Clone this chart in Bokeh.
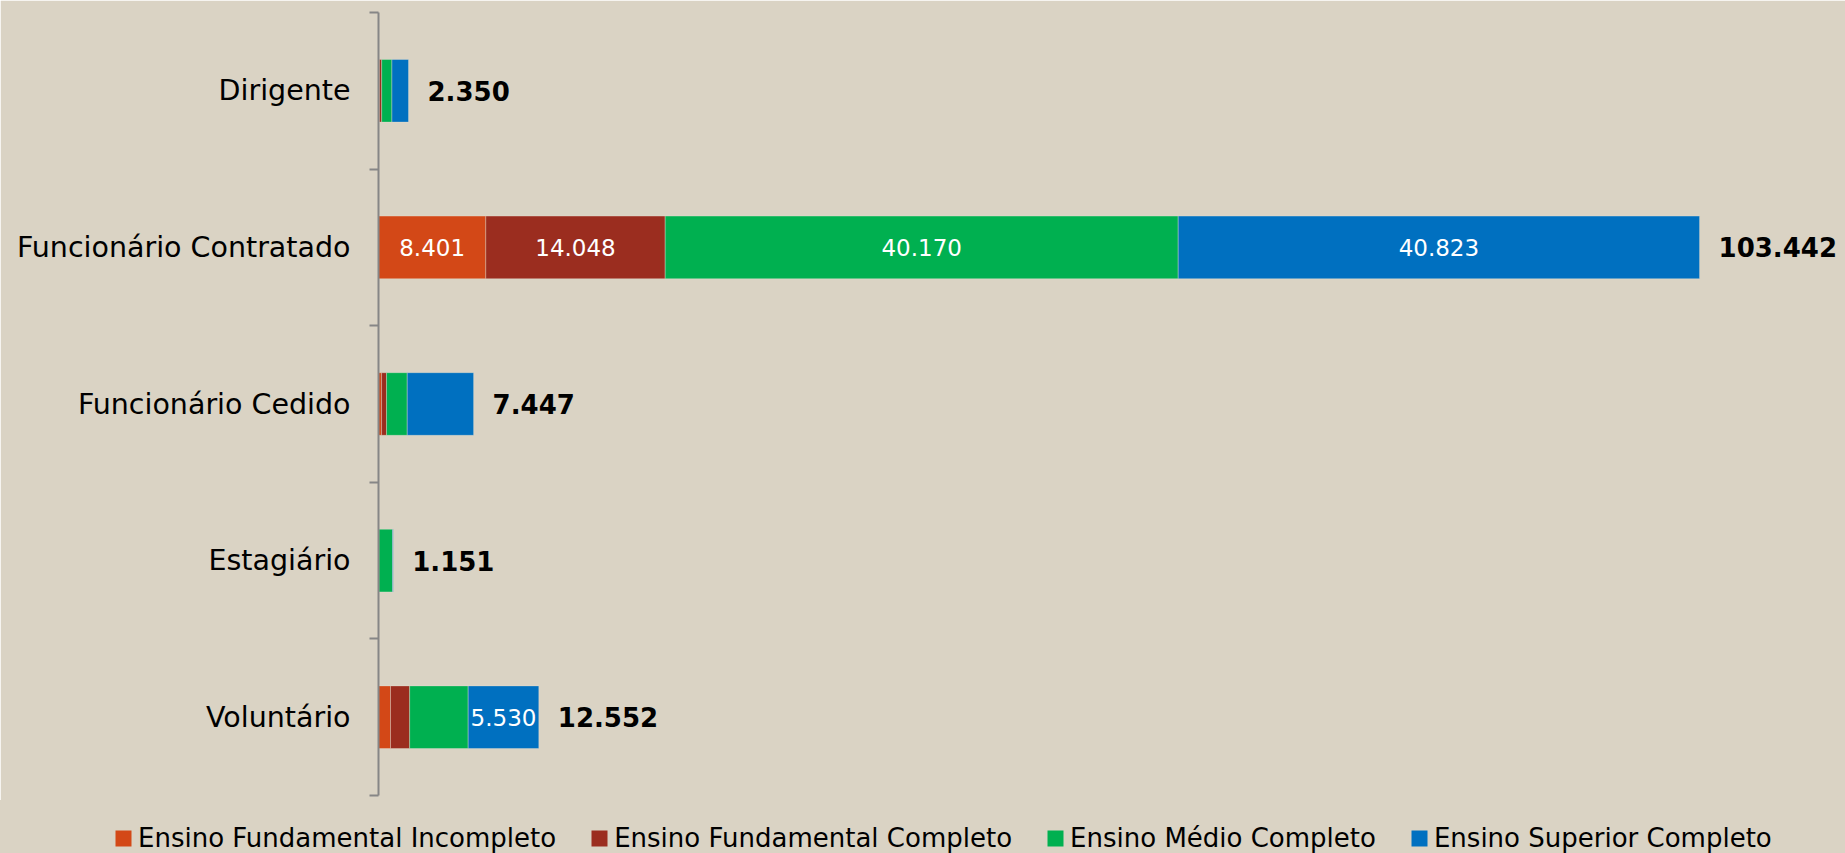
from bokeh.plotting import figure
from bokeh.layouts import column
from bokeh.models import ColumnDataSource, FixedTicker, Legend, LegendItem, Range1d
from bokeh.core.properties import value
from bokeh.embed import file_html
from bokeh.resources import INLINE

categories = ["Dirigente", "Funcionário Contratado", "Funcionário Cedido", "Estagiário", "Voluntário"]
series_names = ["Ensino Fundamental Incompleto", "Ensino Fundamental Completo",
                "Ensino Médio Completo", "Ensino Superior Completo"]
fund_incompleto = [80, 8401, 240, 8, 940]
fund_completo = [170, 14048, 390, 25, 1500]
medio_completo = [800, 40170, 1620, 1065, 4582]
superior_completo = [1300, 40823, 5197, 53, 5530]
totals = [2350, 103442, 7447, 1151, 12552]
colors = ["#D34817", "#9B2D1F", "#00B050", "#0070C0"]

BG = "#DAD3C4"
FONT = "DejaVu Sans"


def fmt(v):
    return f"{v:,}".replace(",", ".")


n = len(categories)
ypos = [n - 1 - i + 0.5 for i in range(n)]

p = figure(width=1845, height=800, x_range=Range1d(0, 114243), y_range=Range1d(0, 5),
           output_backend="svg", toolbar_location=None, x_axis_location=None,
           min_border_left=378, min_border_right=8, min_border_top=12, min_border_bottom=5)
p.frame_align = False
p.background_fill_color = BG
p.border_fill_color = BG
p.outline_line_color = BG
p.outline_line_width = 2
p.grid.visible = False

series_vals = [fund_incompleto, fund_completo, medio_completo, superior_completo]
left = [0] * n
lab_x, lab_y, lab_t = [], [], []
for vals, col in zip(series_vals, colors):
    right = [l + v for l, v in zip(left, vals)]
    src = ColumnDataSource(dict(y=ypos, left=left, right=right))
    p.hbar(y="y", left="left", right="right", height=0.4, source=src,
           fill_color=col, line_color="#E8E2D6", line_width=0.6, line_alpha=0.6)
    for l, v, y in zip(left, vals, ypos):
        if v >= 5500:
            lab_x.append(l + v / 2)
            lab_y.append(y)
            lab_t.append(fmt(v))
    left = right

p.text(x=lab_x, y=lab_y, text=lab_t, text_color="white", text_font=value(FONT),
       text_font_size="23px", text_align="center", text_baseline="middle")

p.text(x=totals, y=ypos, text=[fmt(t) for t in totals], x_offset=19, text_color="black",
       text_font=value(FONT), text_font_size="26px", text_font_style="bold",
       text_align="left", text_baseline="middle")

yax = p.yaxis[0]
yax.ticker = FixedTicker(ticks=ypos, minor_ticks=[0, 1, 2, 3, 4, 5])
yax.major_label_overrides = {y: c for y, c in zip(ypos, categories)}
yax.major_tick_line_color = None
yax.major_tick_out = 0
yax.major_tick_in = 0
yax.minor_tick_out = 9
yax.minor_tick_in = 0
yax.minor_tick_line_color = "#868686"
yax.minor_tick_line_width = 2
yax.axis_line_color = "#868686"
yax.axis_line_width = 2
yax.major_label_standoff = 19
yax.major_label_text_font = FONT
yax.major_label_text_font_size = "28.5px"
yax.major_label_text_color = "black"

# legend strip below the chart
lf = figure(width=1845, height=53, x_range=Range1d(0, 1), y_range=Range1d(0, 1),
            output_backend="svg", toolbar_location=None,
            x_axis_location=None, y_axis_location=None,
            min_border_left=0, min_border_right=0, min_border_top=0, min_border_bottom=0)
lf.frame_align = False
lf.background_fill_color = BG
lf.border_fill_color = BG
lf.outline_line_color = BG
lf.outline_line_width = 2
lf.grid.visible = False
proxies = []
for col in colors:
    # legend swatches only; placed outside the visible range
    proxies.append(lf.hbar(y=[5], left=[5], right=[6], height=0.4, fill_color=col, line_color=None))

legend = Legend(items=[LegendItem(label=s, renderers=[r]) for s, r in zip(series_names, proxies)],
                orientation="horizontal", location=(113, 0), padding=0, margin=0,
                spacing=33, label_standoff=5, glyph_width=20, glyph_height=20,
                label_height=20, label_text_color="black",
                label_text_font=FONT, label_text_font_size="26px",
                border_line_color=None, background_fill_alpha=0)
lf.add_layout(legend)

layout = column(p, lf, spacing=0)
html = file_html(layout, INLINE)
open("out.html", "w").write(html)
